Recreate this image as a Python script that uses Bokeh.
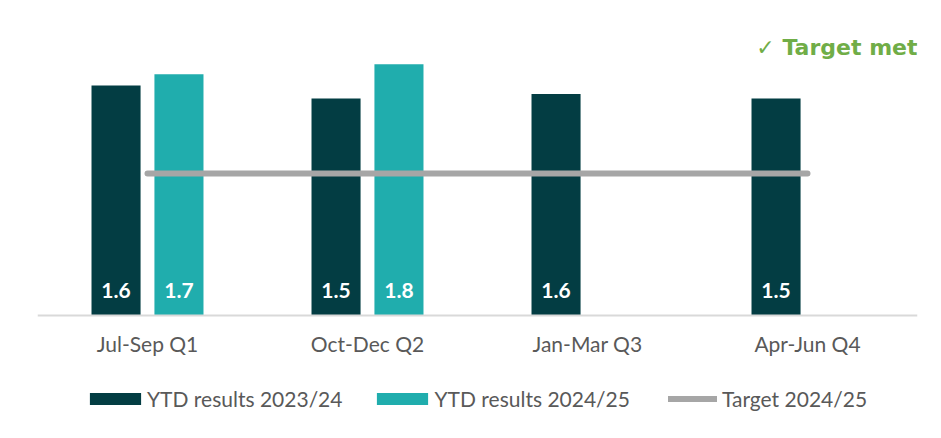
from bokeh.plotting import figure
from bokeh.models import ColumnDataSource, Range1d, Legend, LegendItem, Label
from bokeh.transform import dodge
from bokeh.core.properties import value
from bokeh.embed import file_html
from bokeh.resources import INLINE

categories = ["Jul-Sep Q1", "Oct-Dec Q2", "Jan-Mar Q3", "Apr-Jun Q4"]
ytd_2023_24 = [1.62, 1.53, 1.56, 1.53]
ytd_2024_25 = [1.70, 1.77]
target_2024_25 = [1.0, 1.0, 1.0, 1.0]

DARK = "#033D43"
TEAL = "#20ADAD"
GREY = "#A6A6A6"
TEXT = "#595959"
FONT = "Lato"

src_a = ColumnDataSource(dict(cat=categories, v=ytd_2023_24,
                              lab=[f"{v:.1f}" for v in ytd_2023_24],
                              ly=[0.176] * len(categories)))
src_b = ColumnDataSource(dict(cat=categories[:len(ytd_2024_25)], v=ytd_2024_25,
                              lab=[f"{v:.1f}" for v in ytd_2024_25],
                              ly=[0.176] * len(ytd_2024_25)))
src_t = ColumnDataSource(dict(cat=categories, v=target_2024_25))

p = figure(x_range=categories, y_range=Range1d(-0.867, 2.1), width=941, height=438,
           output_backend="svg", toolbar_location=None,
           min_border_left=37, min_border_right=24, min_border_top=17, min_border_bottom=0)
p.outline_line_color = None
p.xgrid.grid_line_color = None
p.ygrid.grid_line_color = None
p.yaxis.visible = False
p.background_fill_color = "white"
p.border_fill_color = "white"

off = 0.143
w = 0.223
r_a = p.vbar(x=dodge("cat", -off, range=p.x_range), top="v", width=w, source=src_a,
             fill_color=DARK, line_color=None)
r_b = p.vbar(x=dodge("cat", off, range=p.x_range), top="v", width=w, source=src_b,
             fill_color=TEAL, line_color=None)
r_t = p.line(x="cat", y="v", source=src_t, line_color=GREY, line_width=6, line_cap="round")

for s, o in ((src_a, -off), (src_b, off)):
    p.text(x=dodge("cat", o, range=p.x_range), y="ly", text="lab", source=s,
           text_color="white", text_font=value(FONT), text_font_style="bold",
           text_font_size="21px", text_align="center", text_baseline="middle")

ax = p.xaxis[0]
ax.fixed_location = 0
ax.axis_line_color = "#D9D9D9"
ax.axis_line_width = 2
ax.major_tick_line_color = None
ax.minor_tick_line_color = None
ax.major_label_text_font = FONT
ax.major_label_text_font_size = "21px"
ax.major_label_text_color = TEXT
ax.major_label_standoff = 10

common = dict(orientation="horizontal", padding=0, margin=0, border_line_color=None,
              background_fill_alpha=0, label_text_font=FONT, label_text_font_size="21px",
              label_text_color=TEXT)
legend_bars = Legend(items=[LegendItem(label="YTD results 2023/24", renderers=[r_a]),
                            LegendItem(label="YTD results 2024/25", renderers=[r_b])],
                     location=(46, 27), glyph_width=64, glyph_height=15,
                     label_standoff=0, spacing=28, **common)
legend_line = Legend(items=[LegendItem(label="Target 2024/25", renderers=[r_t])],
                     location=(631, 27), glyph_width=49, glyph_height=15,
                     label_standoff=5, **common)
p.add_layout(legend_bars, "center")
p.add_layout(legend_line, "center")

p.add_layout(Label(x=4, y=1.889, text="\u2713 Target met", text_align="right",
                   text_baseline="alphabetic",
                   text_color="#70AD47", text_font="DejaVu Sans", text_font_style="bold",
                   text_font_size="22px"))

open("out.html", "w").write(file_html(p, INLINE))
